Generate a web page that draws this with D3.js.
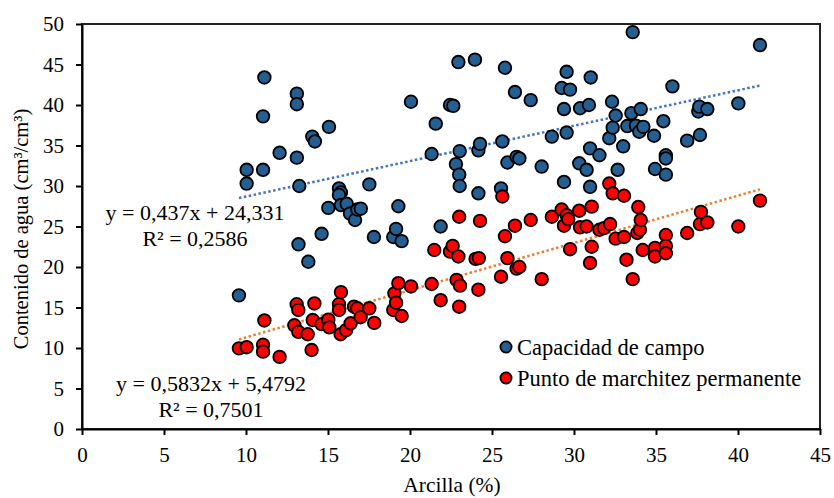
<!DOCTYPE html>
<html><head><meta charset="utf-8">
<script src="https://cdn.jsdelivr.net/npm/d3@7"></script>
<style>body{margin:0;background:#fff}svg{display:block}text{font-family:"Liberation Serif","Times New Roman",serif;fill:#000}</style>
</head><body><svg id="c" width="834" height="498"></svg>
<script>
const ccX=[9.57,10.04,10.04,11.04,11.04,11.12,12.05,13.1,13.1,13.1,13.25,13.2,13.8,14.04,14.2,14.61,15.02,15.06,15.67,15.79,15.67,15.79,16.14,16.34,16.65,16.79,17.0,17.52,17.8,18.98,19.15,19.29,19.49,20.06,21.32,21.57,21.87,22.44,22.64,22.8,22.95,23.0,23.03,23.03,23.96,24.17,24.17,24.27,25.55,25.63,25.79,25.94,26.4,26.5,26.67,27.36,28.03,28.65,29.25,29.39,29.39,29.55,29.55,29.76,30.32,30.37,30.77,30.91,30.98,30.98,31.02,31.55,32.15,32.32,32.36,32.54,32.66,33.0,33.25,33.5,33.58,33.78,33.98,34.07,34.23,34.88,34.94,35.45,35.6,35.6,35.6,36.0,36.9,37.58,37.64,37.68,38.13,40.02,41.34];
const ccY=[16.5,32.0,30.3,32.0,38.6,43.4,34.1,41.4,40.1,33.5,30.0,22.8,20.65,36.1,35.5,24.1,27.3,37.3,29.7,29.2,28.9,27.65,27.8,26.6,25.8,27.1,27.2,30.2,23.7,23.7,24.7,27.5,23.2,40.4,33.95,37.7,25.0,40.0,39.9,32.7,45.3,31.4,30.0,34.3,45.6,34.4,29.1,35.2,29.7,35.5,44.6,32.9,41.6,33.6,33.4,40.6,32.4,36.1,42.1,39.5,30.5,44.1,36.6,41.9,32.8,39.6,32.0,40.0,34.65,29.9,43.4,33.8,35.9,40.4,37.2,38.7,32.0,34.9,37.4,39.0,49.0,37.45,36.7,39.5,37.3,36.2,32.1,38.0,33.8,33.4,31.4,42.3,35.6,39.2,39.8,36.3,39.5,40.2,47.4];
const pmX=[9.57,10.04,11.04,11.04,11.12,12.05,12.95,13.09,13.19,13.19,13.76,14.0,14.07,14.17,14.61,15.02,15.08,15.67,15.67,15.77,15.79,16.1,16.38,16.59,16.79,16.99,17.52,17.82,18.98,19.05,19.15,19.29,19.49,20.06,21.32,21.48,21.87,22.44,22.6,22.84,22.95,23.0,23.0,23.05,24.0,24.17,24.2,24.27,25.55,25.63,25.79,25.94,26.4,26.5,26.67,27.36,28.03,28.65,29.25,29.39,29.55,29.65,29.76,30.32,30.37,30.77,30.98,31.08,31.08,31.55,31.83,32.15,32.2,32.36,32.54,33.05,33.05,33.2,33.58,33.86,33.92,34.02,34.07,34.19,34.94,34.94,35.6,35.6,35.6,36.9,37.68,37.74,38.13,40.02,41.34];
const pmY=[9.95,10.1,10.4,9.55,13.4,8.9,12.8,15.4,14.7,12.0,11.7,9.75,13.45,15.5,12.95,13.5,12.55,15.4,14.7,11.7,16.9,12.2,13.05,15.1,14.9,13.8,14.9,13.1,14.7,16.75,15.6,18.0,13.95,17.6,17.9,22.1,15.9,21.9,22.6,18.4,21.3,26.2,15.1,17.7,21.0,17.2,21.1,25.7,18.8,28.7,23.8,21.1,25.1,19.8,20.0,25.8,18.5,26.2,27.1,25.1,26.4,25.9,22.2,26.95,24.9,25.0,20.5,27.45,22.5,24.6,24.8,30.3,25.3,29.1,23.5,28.8,23.7,20.9,18.5,24.2,27.4,24.6,25.8,22.1,22.35,21.3,23.95,22.6,21.7,24.2,25.3,26.8,25.5,25.0,28.2];
const xTicks=[0,5,10,15,20,25,30,35,40,45];
const yTicks=[0,5,10,15,20,25,30,35,40,45,50];
const seriesNames=["Capacidad de campo","Punto de marchitez permanente"];
const trendCC={m:0.437,b:24.331,eq:"y = 0,437x + 24,331",r2:"R² = 0,2586"};
const trendPM={m:0.5832,b:5.4792,eq:"y = 0,5832x + 5,4792",r2:"R² = 0,7501"};
const xTitle="Arcilla (%)";
const yTitle="Contenido de agua (cm³/cm³)";

const svg=d3.select("#c");
const L=82,R=820,T=24,B=429;
const x=d3.scaleLinear().domain([0,45]).range([L,R]);
const y=d3.scaleLinear().domain([0,50]).range([B,T]);
const blue="#255E91",red="#FF0000";

svg.append("rect").attr("x",L).attr("y",T).attr("width",R-L).attr("height",B-T).attr("fill","none").attr("stroke","#222").attr("stroke-width",2);

const xa=svg.append("g").attr("transform",`translate(0,${B})`).call(d3.axisBottom(x).tickValues(xTicks).tickSize(6).tickSizeOuter(0).tickPadding(12));
const ya=svg.append("g").attr("transform",`translate(${L},0)`).call(d3.axisLeft(y).tickValues(yTicks).tickSize(6).tickSizeOuter(0).tickPadding(12));
[xa,ya].forEach(g=>{g.select(".domain").attr("stroke","#000").attr("stroke-width",2);g.selectAll(".tick line").attr("stroke","#000").attr("stroke-width",2);g.selectAll("text").style("font-size","21px").style("font-family","Liberation Serif");});

function trend(t,xs,col){
  const x0=d3.min(xs),x1=d3.max(xs);
  svg.append("line").attr("x1",x(x0)).attr("y1",y(t.m*x0+t.b)).attr("x2",x(x1)).attr("y2",y(t.m*x1+t.b))
    .attr("stroke",col).attr("stroke-width",2.5).attr("stroke-dasharray","2.5,2.5");
}
trend(trendCC,ccX,"#4472C4");
trend(trendPM,pmX,"#ED7D31");

function pts(xs,ys,col){
  svg.append("g").selectAll("circle").data(xs.map((v,i)=>[v,ys[i]])).join("circle")
    .attr("cx",d=>x(d[0])).attr("cy",d=>y(d[1])).attr("r",6.3).attr("fill",col).attr("stroke","#000").attr("stroke-width",1.8);
}
pts(ccX,ccY,blue);
pts(pmX,pmY,red);

function eqLabel(t,cx,cy){
  const g=svg.append("g").attr("text-anchor","middle").style("font-size","22px");
  g.append("text").attr("x",cx).attr("y",cy).attr("dy","0.35em").text(t.eq);
  g.append("text").attr("x",cx).attr("y",cy+26).attr("dy","0.35em").text(t.r2);
}
eqLabel(trendCC,195,212);
eqLabel(trendPM,211,383);

const lg=svg.append("g");
[[blue,seriesNames[0],347],[red,seriesNames[1],378]].forEach(([c,n,yy])=>{
  lg.append("circle").attr("cx",506).attr("cy",yy).attr("r",5.6).attr("fill",c).attr("stroke","#000").attr("stroke-width",1.8);
  lg.append("text").attr("x",517).attr("y",yy).attr("dy","0.35em").style("font-size","22.5px").text(n);
});

svg.append("text").attr("x",452).attr("y",484).attr("dy","0.35em").attr("text-anchor","middle").style("font-size","21.5px").text(xTitle);
svg.append("text").attr("transform","translate(21,229) rotate(-90)").attr("dy","0.35em").attr("text-anchor","middle").style("font-size","20.5px").text(yTitle);
</script></body></html>
